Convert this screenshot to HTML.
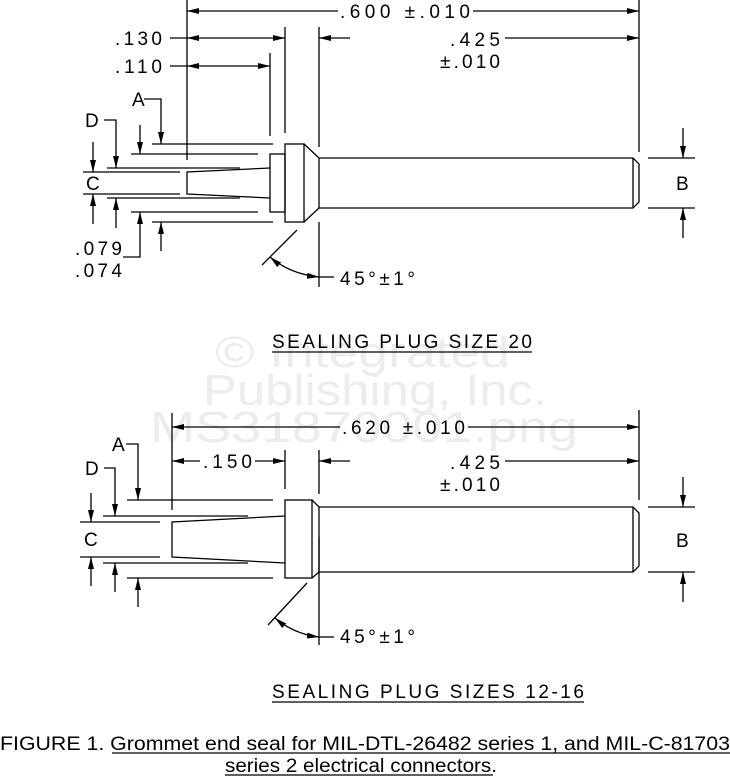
<!DOCTYPE html>
<html><head><meta charset="utf-8"><style>html,body{margin:0;padding:0;background:#fff;}svg{display:block}</style></head>
<body>
<svg width="730" height="776" viewBox="0 0 730 776" xmlns="http://www.w3.org/2000/svg">
<defs>
<marker id="a" viewBox="0 0 12 6" refX="12" refY="3" markerWidth="12" markerHeight="6" markerUnits="userSpaceOnUse" orient="auto-start-reverse"><path d="M0,0 L12,3 L0,6 z" fill="#000"/></marker>
</defs>
<g font-family="Liberation Sans, sans-serif" fill="#ececec" font-size="44">
<text x="215" y="367" textLength="295" lengthAdjust="spacingAndGlyphs">© Integrated</text>
<text x="203" y="405" textLength="344" lengthAdjust="spacingAndGlyphs">Publishing, Inc.</text>
<text x="150" y="442" textLength="428" lengthAdjust="spacingAndGlyphs">MS31870001.png</text>
</g>
<g stroke="#000" stroke-width="1.3" fill="none">
<line x1="187" y1="0" x2="187" y2="160"/>
<line x1="285" y1="27" x2="285" y2="133"/>
<line x1="270" y1="53" x2="270" y2="136"/>
<line x1="319" y1="27" x2="319" y2="147"/>
<line x1="319" y1="222" x2="319" y2="287"/>
<line x1="639" y1="0" x2="639" y2="152"/>
<line x1="338" y1="11" x2="187" y2="11" marker-end="url(#a)"/>
<line x1="473" y1="11" x2="639" y2="11" marker-end="url(#a)"/>
<line x1="170" y1="38" x2="187" y2="38"/>
<line x1="236" y1="38" x2="187" y2="38" marker-end="url(#a)"/>
<line x1="236" y1="38" x2="285" y2="38" marker-end="url(#a)"/>
<line x1="170" y1="66" x2="187" y2="66"/>
<line x1="228" y1="66" x2="187" y2="66" marker-end="url(#a)"/>
<line x1="228" y1="66" x2="270" y2="66" marker-end="url(#a)"/>
<line x1="350" y1="38" x2="319" y2="38" marker-end="url(#a)"/>
<line x1="505" y1="38" x2="639" y2="38" marker-end="url(#a)"/>
<rect x="285" y="144" width="19" height="78"/>
<rect x="270" y="154" width="15" height="58"/>
<path d="M304,144 L319,158 L633,158 L639,164 L639,202 L633,208 L319,208 L304,222"/>
<line x1="319" y1="158" x2="319" y2="208"/>
<line x1="633" y1="158" x2="633" y2="208"/>
<path d="M270,168 L187,172 L187,194 L270,198"/>
<line x1="152" y1="144" x2="273" y2="144"/>
<line x1="152" y1="222" x2="273" y2="222"/>
<line x1="131" y1="154" x2="258" y2="154"/>
<line x1="131" y1="212" x2="258" y2="212"/>
<line x1="107" y1="168" x2="240" y2="168"/>
<line x1="107" y1="198" x2="240" y2="198"/>
<line x1="83" y1="172" x2="180" y2="172"/>
<line x1="83" y1="194" x2="180" y2="194"/>
<line x1="93" y1="142" x2="93" y2="172" marker-end="url(#a)"/>
<line x1="93" y1="224" x2="93" y2="194" marker-end="url(#a)"/>
<path d="M104,120 L116,120 L116,168" marker-end="url(#a)"/>
<line x1="116" y1="228" x2="116" y2="198" marker-end="url(#a)"/>
<line x1="140" y1="125" x2="140" y2="154" marker-end="url(#a)"/>
<path d="M123,257 L140,257 L140,212" marker-end="url(#a)"/>
<path d="M144,99 L161,99 L161,144" marker-end="url(#a)"/>
<line x1="161" y1="251" x2="161" y2="222" marker-end="url(#a)"/>
<line x1="262" y1="265" x2="297" y2="230"/>
<path d="M270,257 Q290,274 319,277" marker-start="url(#a)" marker-end="url(#a)"/>
<line x1="319" y1="277" x2="334" y2="277"/>
<line x1="648" y1="158" x2="695" y2="158"/>
<line x1="648" y1="208" x2="695" y2="208"/>
<line x1="683" y1="128" x2="683" y2="158" marker-end="url(#a)"/>
<line x1="683" y1="238" x2="683" y2="208" marker-end="url(#a)"/>
<line x1="272" y1="352" x2="532" y2="352"/>
<line x1="172" y1="413" x2="172" y2="510"/>
<line x1="285" y1="450" x2="285" y2="489"/>
<line x1="319" y1="450" x2="319" y2="494"/>
<line x1="319" y1="537" x2="319" y2="645"/>
<line x1="639" y1="410" x2="639" y2="500"/>
<line x1="340" y1="427" x2="172" y2="427" marker-end="url(#a)"/>
<line x1="468" y1="427" x2="639" y2="427" marker-end="url(#a)"/>
<line x1="200" y1="461" x2="172" y2="461" marker-end="url(#a)"/>
<line x1="255" y1="461" x2="285" y2="461" marker-end="url(#a)"/>
<line x1="350" y1="461" x2="319" y2="461" marker-end="url(#a)"/>
<line x1="505" y1="461" x2="639" y2="461" marker-end="url(#a)"/>
<rect x="285" y="500" width="27" height="78"/>
<path d="M312,500 L319,507 L633,507 L639,513 L639,566 L633,572 L319,572 L312,578"/>
<line x1="319" y1="507" x2="319" y2="572"/>
<line x1="633" y1="507" x2="633" y2="572"/>
<path d="M285,516 L172,522 L172,557 L285,563"/>
<line x1="127" y1="500" x2="273" y2="500"/>
<line x1="127" y1="578" x2="273" y2="578"/>
<line x1="103" y1="516" x2="248" y2="516"/>
<line x1="103" y1="563" x2="248" y2="563"/>
<line x1="80" y1="522" x2="160" y2="522"/>
<line x1="80" y1="557" x2="160" y2="557"/>
<line x1="91" y1="493" x2="91" y2="522" marker-end="url(#a)"/>
<line x1="91" y1="586" x2="91" y2="557" marker-end="url(#a)"/>
<path d="M104,468 L115,468 L115,516" marker-end="url(#a)"/>
<line x1="115" y1="592" x2="115" y2="563" marker-end="url(#a)"/>
<path d="M126,444 L138,444 L138,500" marker-end="url(#a)"/>
<line x1="138" y1="607" x2="138" y2="578" marker-end="url(#a)"/>
<line x1="268" y1="625" x2="307" y2="583"/>
<path d="M275,618 Q294,634 319,637" marker-start="url(#a)" marker-end="url(#a)"/>
<line x1="319" y1="637" x2="334" y2="637"/>
<line x1="648" y1="507" x2="695" y2="507"/>
<line x1="648" y1="572" x2="695" y2="572"/>
<line x1="683" y1="477" x2="683" y2="507" marker-end="url(#a)"/>
<line x1="683" y1="602" x2="683" y2="572" marker-end="url(#a)"/>
<line x1="272" y1="702" x2="584" y2="702"/>
<line x1="112" y1="753" x2="730" y2="753"/>
<line x1="225" y1="775" x2="493" y2="775"/>
</g>
<g font-family="Liberation Sans, sans-serif" font-size="19" fill="#000" lengthAdjust="spacing">
<text x="340" y="18" textLength="130">.600 ±.010</text>
<text x="115" y="45" textLength="47">.130</text>
<text x="115" y="73" textLength="47">.110</text>
<text x="450" y="46" textLength="50">.425</text>
<text x="440" y="68" textLength="60">±.010</text>
<text x="132" y="106">A</text>
<text x="85" y="127">D</text>
<text x="86" y="190">C</text>
<text x="676" y="190">B</text>
<text x="75" y="255" textLength="47">.079</text>
<text x="75" y="277" textLength="47">.074</text>
<text x="340" y="285" textLength="75">45°±1°</text>
<text x="272" y="348" textLength="260">SEALING PLUG SIZE 20</text>
<text x="342" y="434" textLength="123">.620 ±.010</text>
<text x="203" y="468" textLength="49">.150</text>
<text x="450" y="469" textLength="50">.425</text>
<text x="440" y="491" textLength="60">±.010</text>
<text x="112" y="451">A</text>
<text x="85" y="475">D</text>
<text x="84" y="546">C</text>
<text x="676" y="547">B</text>
<text x="340" y="643" textLength="75">45°±1°</text>
<text x="272" y="698" textLength="312">SEALING PLUG SIZES 12-16</text>
</g>
<g font-family="Liberation Sans, sans-serif" font-size="19" fill="#000">
<text x="0" y="750" textLength="730" lengthAdjust="spacingAndGlyphs">FIGURE 1.  Grommet end seal for MIL-DTL-26482 series 1, and MIL-C-81703</text>
<text x="225" y="772" textLength="272" lengthAdjust="spacingAndGlyphs">series 2 electrical connectors.</text>
</g>
</svg>
</body></html>
